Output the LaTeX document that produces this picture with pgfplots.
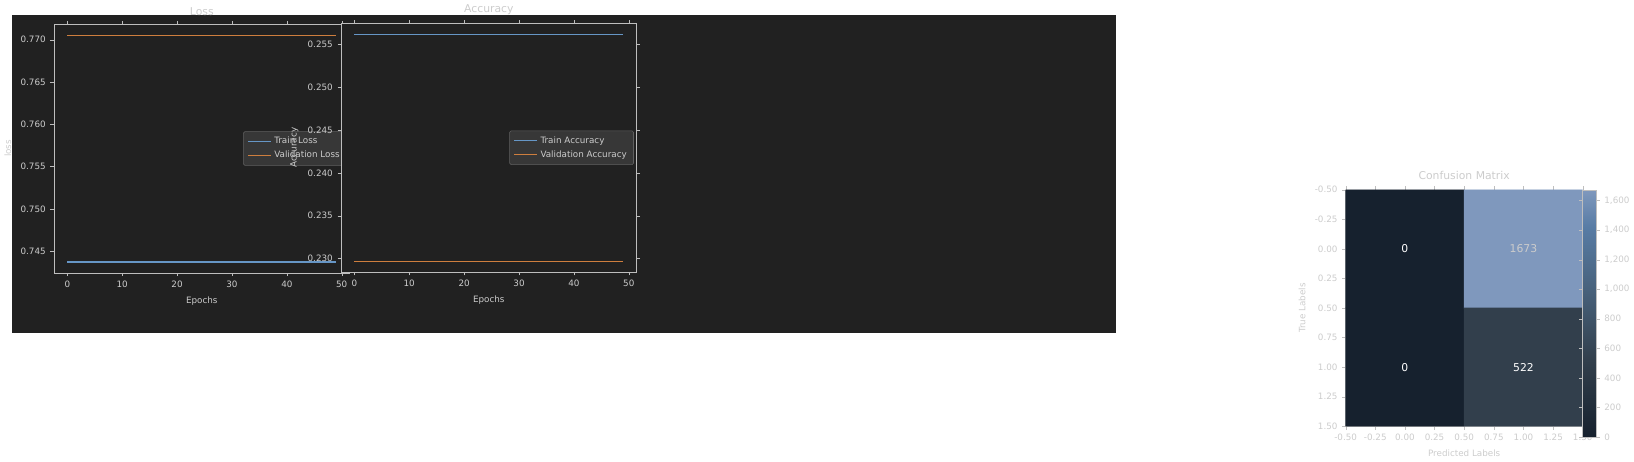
\documentclass[border=0pt]{standalone}
\usepackage{pgfplots}
\pgfplotsset{compat=1.18}
\usepackage{fontspec}
\setmainfont{DejaVu Sans}
\definecolor{bg}{RGB}{33,33,33}
\definecolor{fg}{RGB}{204,204,204}
\definecolor{ax}{RGB}{190,190,190}
\definecolor{cblue}{RGB}{102,150,198}
\definecolor{corange}{RGB}{206,126,62}
\begin{document}
\begin{tikzpicture}[x=0.5pt,y=0.5pt]
\fill[bg] (0,0) rectangle (1634,470);
\pgfplotsset{
  every axis/.append style={
    scale only axis, anchor=south west,
    axis line style={ax}, tick style={ax}, tick align=outside,
    major tick length=2.5pt,
    font=\fontsize{6.5}{8}\selectfont, text=fg,
    ticklabel style={text=fg},
    title style={font=\fontsize{8}{9}\selectfont, text=fg, yshift=-3pt},
    label style={text=fg},
    /pgf/number format/assume math mode=true,
    axis background/.style={fill=bg},
    legend style={fill=bg!90!white, draw=ax!40!bg, text=fg, font=\fontsize{6.5}{8}\selectfont, rounded corners=1pt},
    legend cell align=left,
  }
}
\begin{axis}[at={(76,71)}, width=219pt, height=184pt,
  title={Loss}, xlabel={Epochs}, ylabel={loss},
  xmin=-2.45, xmax=51.45, ymin=0.74244, ymax=0.77184,
  xtick={0,10,...,50}, ytick={0.745,0.75,...,0.7701},
  yticklabel style={/pgf/number format/fixed,/pgf/number format/precision=3,/pgf/number format/fixed zerofill},
  legend style={at={(0.99,0.5)},anchor=east}]
\addplot[cblue, thick] coordinates {(0,0.74372) (49,0.74372)};
\addlegendentry{Train Loss}
\addplot[corange, thick] coordinates {(0,0.77056) (49,0.77056)};
\addlegendentry{Validation Loss}
\end{axis}
\begin{axis}[at={(599,71)}, width=219pt, height=184pt,
  title={Accuracy}, xlabel={Epochs}, ylabel={Accuracy},
  xmin=-2.45, xmax=51.45, ymin=0.22842, ymax=0.25744,
  xtick={0,10,...,50}, ytick={0.23,0.235,...,0.2551},
  yticklabel style={/pgf/number format/fixed,/pgf/number format/precision=3,/pgf/number format/fixed zerofill},
  legend style={at={(0.99,0.5)},anchor=east}]
\addplot[cblue, thick] coordinates {(0,0.25618) (49,0.25618)};
\addlegendentry{Train Accuracy}
\addplot[corange, thick] coordinates {(0,0.22968) (49,0.22968)};
\addlegendentry{Validation Accuracy}
\end{axis}
\begin{axis}[at={(1125,79)}, width=175.5pt, height=175pt,
  title={Confusion Matrix}, title style={yshift=1pt}, xlabel={Predicted Labels}, ylabel={True Labels},
  xmin=-0.5, xmax=1.5, ymin=-0.5, ymax=1.5, y dir=reverse,
  xtick={-0.5,-0.25,...,1.5}, ytick={-0.5,-0.25,...,1.5},
  xticklabel style={/pgf/number format/fixed,/pgf/number format/precision=2,/pgf/number format/fixed zerofill},
  yticklabel style={/pgf/number format/fixed,/pgf/number format/precision=2,/pgf/number format/fixed zerofill},
  colormap={cm}{rgb255(0)=(22,33,46) rgb255(312)=(50,63,76) rgb255(600)=(72,98,124) rgb255(850)=(88,124,165) rgb255(1000)=(127,152,189)},
  point meta min=0, point meta max=1673,
  colorbar,
  colorbar style={at={(1,1)}, anchor=north west, xshift=10.5pt, yshift=4.5pt,
    width=10pt, height=183pt, ytick={0,200,...,1600},
    axis line style={ax}, tick style={ax}, ticklabel style={text=fg},
    font=\fontsize{6.5}{8}\selectfont,
    /pgf/number format/assume math mode=true, y dir=normal}]
\addplot[matrix plot*, mesh/cols=2, point meta=explicit] table[meta=c] {
x y c
0 0 0
1 0 1673
0 1 0
1 1 522
};
\node[text=white, font=\fontsize{8}{9}\selectfont] at (axis cs:0,0) {0};
\node[text=fg, font=\fontsize{8}{9}\selectfont] at (axis cs:1,0) {1673};
\node[text=white, font=\fontsize{8}{9}\selectfont] at (axis cs:0,1) {0};
\node[text=white, font=\fontsize{8}{9}\selectfont] at (axis cs:1,1) {522};
\end{axis}
\end{tikzpicture}
\end{document}
